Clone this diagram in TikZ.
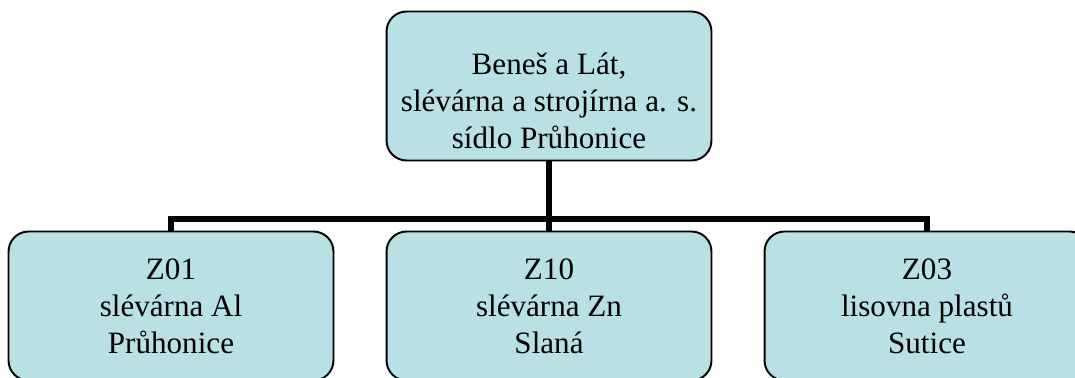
\documentclass[tikz,border=0pt]{standalone}
\usepackage{fontspec}
\setmainfont{Liberation Serif}
\usepackage{xcolor}
\usepackage{tikz}
\definecolor{boxfill}{RGB}{185,224,228}

\begin{document}
\begin{tikzpicture}[x=0.02cm,y=-0.02cm,
    main node/.style={draw=black,line width=1.1pt,fill=boxfill,rounded corners=0.4cm,minimum width=6.5cm,minimum height=2.98cm,inner sep=0pt},
    label text/.style={align=center,font=\fontsize{17.7}{21}\selectfont},
    conn/.style={line width=3.3pt}]
    \useasboundingbox (0,0) rectangle (1075,378);
    \clip (0,0) rectangle (1075,378);

    \node[main node] (top) at (549,86) {};
    \node[label text] (topname) at (549,101) {Beneš a Lát,\\slévárna a strojírna a. s.\\sídlo Průhonice};
    \node[main node,label text] (z01) at (171,306) {Z01\\slévárna Al\\Průhonice};
    \node[main node,label text] (z10) at (549,306) {Z10\\slévárna Zn\\Slaná};
    \node[main node,label text] (z03) at (927,306) {Z03\\lisovna plastů\\Sutice};
    \coordinate (bus) at (549,219);

    \draw[conn] (top.south) -- (z10.north);
    \draw[conn] (z01.north) -- (z01.north |- bus) -- (z03.north |- bus) -- (z03.north);
\end{tikzpicture}
\end{document}
